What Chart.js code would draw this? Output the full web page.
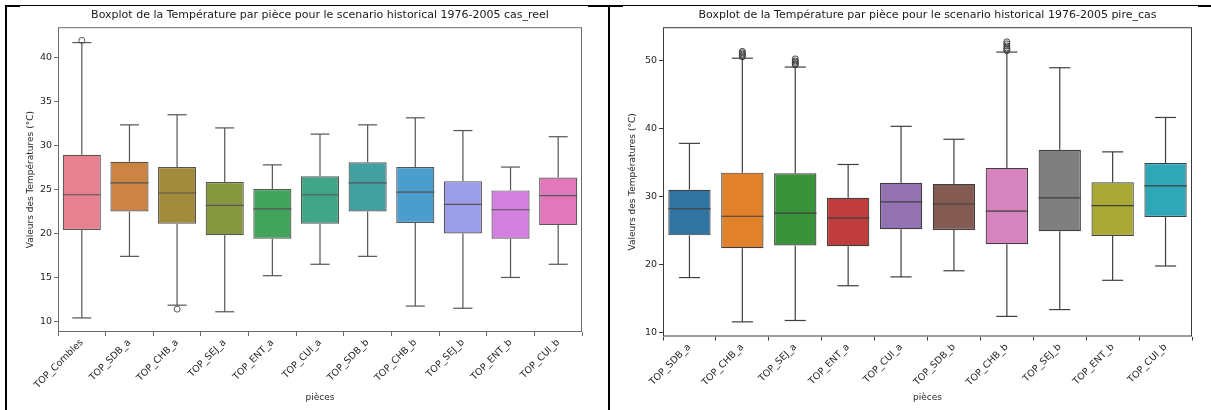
<!DOCTYPE html>
<html>
<head>
<meta charset="utf-8">
<script src="https://cdn.jsdelivr.net/npm/chart.js@4.4.1/dist/chart.umd.min.js"></script>
<style>
  body { margin: 0; background: #fff; }
  #wrap { position: relative; width: 1211px; height: 410px; overflow: hidden; }
  canvas { position: absolute; top: 0; }
  .rule { position: absolute; background: #000; }
</style>
</head>
<body>
<div id="wrap">
  <canvas id="reel" width="608" height="410" style="left:0"></canvas>
  <canvas id="pire" width="601" height="410" style="left:610px"></canvas>
  <div class="rule" style="left:5px;top:5px;width:1206px;height:1px"></div>
  <div class="rule" style="left:5px;top:5px;width:15px;height:2px"></div>
  <div class="rule" style="left:588px;top:5px;width:35px;height:2px"></div>
  <div class="rule" style="left:1198px;top:5px;width:13px;height:2px"></div>
  <div class="rule" style="left:5px;top:5px;width:2px;height:405px"></div>
  <div class="rule" style="left:608px;top:5px;width:2px;height:405px"></div>
</div>
<script>
Chart.defaults.font.family = 'DejaVu Sans';
Chart.defaults.color = '#262626';
Chart.defaults.animation = false;

// cas_reel
const piecesReel = ['TOP_Combles', 'TOP_SDB_a', 'TOP_CHB_a', 'TOP_SEJ_a', 'TOP_ENT_a', 'TOP_CUI_a',
                    'TOP_SDB_b', 'TOP_CHB_b', 'TOP_SEJ_b', 'TOP_ENT_b', 'TOP_CUI_b'];
const reelMin = [10.4, 17.4, 11.85, 11.1, 15.2, 16.5, 17.4, 11.75, 11.5, 15.0, 16.5];
const reelQ1  = [20.4, 22.5, 21.1, 19.8, 19.4, 21.1, 22.5, 21.2, 20.0, 19.4, 20.95];
const reelMed = [24.4, 25.75, 24.6, 23.2, 22.8, 24.4, 25.75, 24.7, 23.3, 22.7, 24.3];
const reelQ3  = [28.95, 28.15, 27.55, 25.85, 25.05, 26.5, 28.1, 27.55, 25.95, 24.9, 26.35];
const reelMax = [41.7, 32.35, 33.5, 32.0, 27.8, 31.3, 32.35, 33.15, 31.7, 27.55, 31.0];
const reelOutliers = [['TOP_Combles', 41.95], ['TOP_CHB_a', 11.4]];
const reelTicks = [10, 15, 20, 25, 30, 35, 40];
const reelColors = ['#e7808f', '#cc8444', '#a28b3c', '#85963f', '#42a35c', '#40a486',
                    '#42a0a1', '#4a9dcc', '#9c9de8', '#d480e0', '#e277bb'];

// pire_cas
const piecesPire = ['TOP_SDB_a', 'TOP_CHB_a', 'TOP_SEJ_a', 'TOP_ENT_a', 'TOP_CUI_a',
                    'TOP_SDB_b', 'TOP_CHB_b', 'TOP_SEJ_b', 'TOP_ENT_b', 'TOP_CUI_b'];
const pireMin = [18.1, 11.6, 11.8, 16.9, 18.2, 19.1, 12.4, 13.4, 17.7, 19.8];
const pireQ1  = [24.3, 22.4, 22.8, 22.7, 25.2, 25.1, 23.0, 24.9, 24.2, 27.0];
const pireMed = [28.2, 27.1, 27.55, 26.85, 29.2, 28.9, 27.85, 29.8, 28.65, 31.55];
const pireQ3  = [31.0, 33.5, 33.4, 29.8, 32.0, 31.85, 34.2, 36.85, 32.1, 34.9];
const pireMax = [37.8, 50.3, 49.0, 34.7, 40.3, 38.4, 51.2, 48.9, 36.55, 41.6];
const pireOutliers = [
  ['TOP_CHB_a', 50.5], ['TOP_CHB_a', 50.7], ['TOP_CHB_a', 50.9], ['TOP_CHB_a', 51.1], ['TOP_CHB_a', 51.3],
  ['TOP_SEJ_a', 49.3], ['TOP_SEJ_a', 49.5], ['TOP_SEJ_a', 49.7], ['TOP_SEJ_a', 49.9], ['TOP_SEJ_a', 50.2],
  ['TOP_CHB_b', 51.4], ['TOP_CHB_b', 51.6], ['TOP_CHB_b', 51.8], ['TOP_CHB_b', 52.1], ['TOP_CHB_b', 52.4], ['TOP_CHB_b', 52.7]
];
const pireTicks = [10, 20, 30, 40, 50];
const pireColors = ['#3274a1', '#e1812c', '#3a923a', '#c03d3e', '#9372b2',
                    '#845b53', '#d684bd', '#7f7f7f', '#a9aa35', '#2ea8b6'];

// whiskers, caps, medians and the axes frame
function boxLines(st) {
  return {
    id: 'boxLines',
    afterDatasetsDraw(chart) {
      const { ctx, chartArea: a } = chart;
      const x = chart.scales.x, y = chart.scales.y;
      const bw = (x.getPixelForValue(1) - x.getPixelForValue(0)) * 0.8;
      const seg = (x1, y1, x2, y2) => { ctx.beginPath(); ctx.moveTo(x1, y1); ctx.lineTo(x2, y2); ctx.stroke(); };
      ctx.save();
      ctx.strokeStyle = st.line;
      ctx.lineWidth = 1.2;
      st.q1.forEach((q1, i) => {
        const cx = x.getPixelForValue(i);
        const lo = y.getPixelForValue(st.lo[i]);
        const hi = y.getPixelForValue(st.hi[i]);
        seg(cx, y.getPixelForValue(q1), cx, lo);
        seg(cx, y.getPixelForValue(st.q3[i]), cx, hi);
        seg(cx - bw / 4, lo, cx + bw / 4, lo);
        seg(cx - bw / 4, hi, cx + bw / 4, hi);
        const m = y.getPixelForValue(st.med[i]);
        seg(cx - bw / 2, m, cx + bw / 2, m);
      });
      ctx.strokeStyle = st.frame;
      ctx.lineWidth = 1;
      ctx.strokeRect(a.left + 0.5, a.top + 0.5, a.right - a.left - 1, a.bottom - a.top - 1);
      ctx.restore();
    }
  };
}

function boxChart(id, p) {
  new Chart(document.getElementById(id), {
    type: 'bar',
    data: {
      labels: p.labels,
      datasets: [
        {
          data: p.q1.map((v, i) => [v, p.q3[i]]),
          backgroundColor: p.colors,
          borderColor: p.line,
          borderWidth: 1.2,
          borderSkipped: false,
          barPercentage: 0.8,
          categoryPercentage: 1.0,
          order: 2
        },
        {
          type: 'line',
          data: p.outliers.map(([c, v]) => ({ x: c, y: v })),
          showLine: false,
          pointRadius: 3,
          pointBackgroundColor: 'rgba(0,0,0,0)',
          pointBorderColor: p.line,
          pointBorderWidth: 1,
          order: 1
        }
      ]
    },
    options: {
      responsive: false,
      layout: { padding: { top: 0, right: p.padRight, bottom: 0, left: 0 } },
      plugins: {
        legend: { display: false },
        tooltip: { enabled: false },
        title: {
          display: true,
          text: p.title,
          fullSize: false,
          color: '#1a1a1a',
          font: { size: 11, weight: 'normal' },
          padding: { top: 9, bottom: p.titleGap }
        }
      },
      scales: {
        x: {
          offset: true,
          grid: { display: true, drawOnChartArea: false, tickLength: 4, color: p.frame },
          border: { display: false },
          ticks: { autoSkip: false, minRotation: 45, maxRotation: 45, padding: 1, font: { size: 9.5 } },
          title: { display: true, text: 'pièces', font: { size: 9 }, padding: { top: 0, bottom: 6.6 } },
          afterFit: s => { s.height = p.xHeight; }
        },
        y: {
          min: p.min,
          max: p.max,
          grid: { display: true, drawOnChartArea: false, tickLength: 4, color: p.frame },
          border: { display: false },
          ticks: { padding: 2, font: { size: 9.5 } },
          title: { display: true, text: 'Valeurs des Températures (°C)', font: { size: 9 }, padding: { top: p.yTitlePad, bottom: 0 } },
          afterBuildTicks: s => { s.ticks = p.ticks.map(v => ({ value: v })); },
          afterFit: s => { s.width = p.yWidth; }
        }
      }
    },
    plugins: [boxLines({ q1: p.q1, q3: p.q3, med: p.med, lo: p.lo, hi: p.hi, line: p.line, frame: p.frame })]
  });
}

boxChart('reel', {
  labels: piecesReel, lo: reelMin, q1: reelQ1, med: reelMed, q3: reelQ3, hi: reelMax,
  outliers: reelOutliers, ticks: reelTicks, colors: reelColors,
  title: 'Boxplot de la Température par pièce pour le scenario historical 1976-2005 cas_reel',
  min: 8.8, max: 43.45, line: '#555555', frame: '#6a6a6a',
  padRight: 26, yWidth: 58, xHeight: 78, yTitlePad: 25.6, titleGap: 5
});

boxChart('pire', {
  labels: piecesPire, lo: pireMin, q1: pireQ1, med: pireMed, q3: pireQ3, hi: pireMax,
  outliers: pireOutliers, ticks: pireTicks, colors: pireColors,
  title: 'Boxplot de la Température par pièce pour le scenario historical 1976-2005 pire_cas',
  min: 9.45, max: 54.85, line: '#3f3f3f', frame: '#3a3a3a',
  padRight: 19, yWidth: 53, xHeight: 73.5, yTitlePad: 17.6, titleGap: 5
});
</script>
</body>
</html>
